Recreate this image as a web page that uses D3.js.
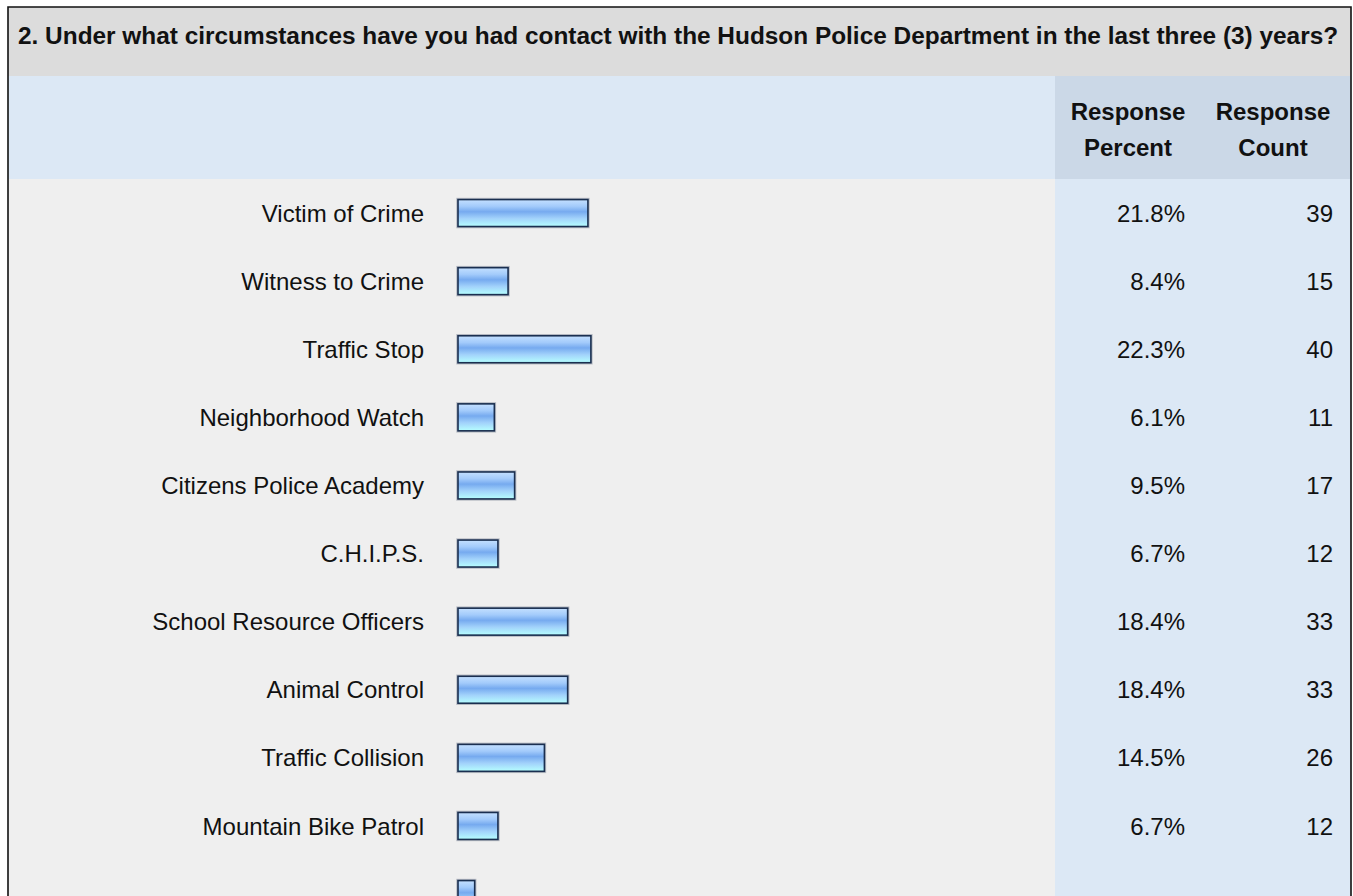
<!DOCTYPE html>
<html>
<head>
<meta charset="utf-8">
<script src="https://cdn.jsdelivr.net/npm/d3@7"></script>
<style>
  body { margin: 0; background: #ffffff; }
  svg { display: block; font-family: "Liberation Sans", Arial, sans-serif; }
</style>
</head>
<body>
<div id="chart"></div>
<script>
// survey question 2 data
const questionTitle = "2. Under what circumstances have you had contact with the Hudson Police Department in the last three (3) years?";
const categories = ["Victim of Crime", "Witness to Crime", "Traffic Stop", "Neighborhood Watch", "Citizens Police Academy",
    "C.H.I.P.S.", "School Resource Officers", "Animal Control", "Traffic Collision", "Mountain Bike Patrol", "Other"];
const percents = [21.8, 8.4, 22.3, 6.1, 9.5, 6.7, 18.4, 18.4, 14.5, 6.7, 2.8];
const counts = [39, 15, 40, 11, 17, 12, 33, 33, 26, 12, 5];
const headerPercent = ["Response", "Percent"];
const headerCount = ["Response", "Count"];

const W = 1353, H = 896;
const frameLeft = 8, frameRight = 1351, frameTop = 7;
const titleBottom = 76, headerBottom = 179;
const colStart = 1055;
const rowStep = 68.1;

const svg = d3.select("#chart").append("svg")
    .attr("width", W)
    .attr("height", H);

// gradient for the glossy bars
const defs = svg.append("defs");
const grad = defs.append("linearGradient")
    .attr("id", "barGrad")
    .attr("x1", 0).attr("y1", 0).attr("x2", 0).attr("y2", 1);
grad.append("stop").attr("offset", "0%").attr("stop-color", "#c4e0ff");
grad.append("stop").attr("offset", "25%").attr("stop-color", "#a3cbfb");
grad.append("stop").attr("offset", "45%").attr("stop-color", "#76aaef");
grad.append("stop").attr("offset", "70%").attr("stop-color", "#a2d2fb");
grad.append("stop").attr("offset", "100%").attr("stop-color", "#b6ffff");

// backgrounds
svg.append("rect").attr("x", frameLeft).attr("y", frameTop).attr("width", frameRight - frameLeft).attr("height", titleBottom - frameTop).attr("fill", "#dcdcdc");
svg.append("rect").attr("x", frameLeft).attr("y", titleBottom).attr("width", colStart - frameLeft).attr("height", headerBottom - titleBottom).attr("fill", "#dce8f5");
svg.append("rect").attr("x", colStart).attr("y", titleBottom).attr("width", frameRight - colStart).attr("height", headerBottom - titleBottom).attr("fill", "#cbd8e7");
svg.append("rect").attr("x", frameLeft).attr("y", headerBottom).attr("width", colStart - frameLeft).attr("height", H - headerBottom).attr("fill", "#efefef");
svg.append("rect").attr("x", colStart).attr("y", headerBottom).attr("width", frameRight - colStart).attr("height", H - headerBottom).attr("fill", "#dce8f5");

// outer frame
svg.append("path")
    .attr("d", `M${frameLeft},${H} V${frameTop} H${frameRight} V${H}`)
    .attr("fill", "none")
    .attr("stroke", "#111")
    .attr("stroke-width", 1.6);

// title
svg.append("text")
    .attr("x", 18)
    .attr("y", 44)
    .style("font-size", "24.4px")
    .style("font-weight", "bold")
    .style("fill", "#111")
    .text(questionTitle);

// column headers
function header(lines, cx) {
    const t = svg.append("text")
        .attr("text-anchor", "middle")
        .style("font-size", "24px")
        .style("font-weight", "bold")
        .style("fill", "#111");
    lines.forEach((l, i) => {
        t.append("tspan").attr("x", cx).attr("y", 120 + i * 36).text(l);
    });
}
header(headerPercent, 1128);
header(headerCount, 1273);

// scales
const x = d3.scaleLinear()
    .domain([0, 100])
    .range([458, 458 + 596]);

const y = d3.scaleBand()
    .domain(categories)
    .range([headerBottom, headerBottom + rowStep * categories.length])
    .paddingInner(0.604)
    .paddingOuter(0.302);

// bars
const bars = svg.append("g");
bars.selectAll(".shadow")
    .data(percents)
    .enter().append("rect")
    .attr("x", x(0) - 0.5)
    .attr("y", (d, i) => y(categories[i]) - 0.5)
    .attr("width", d => x(d) - x(0) + 1)
    .attr("height", y.bandwidth() + 1)
    .attr("fill", "none")
    .attr("stroke", "#b8bcc4")
    .attr("stroke-width", 2.5);

bars.selectAll(".bar")
    .data(percents)
    .enter().append("rect")
    .attr("x", x(0))
    .attr("y", (d, i) => y(categories[i]))
    .attr("width", d => x(d) - x(0))
    .attr("height", y.bandwidth())
    .attr("fill", "url(#barGrad)")
    .attr("stroke", "#1a2f50")
    .attr("stroke-width", 1.6);

// labels and numbers (the last row is only partly in the window, its texts fall below it)
const rowY = i => y(categories[i]) + y.bandwidth() / 2 + 8.6;
const shown = d3.range(categories.length).filter(i => rowY(i) < H);

const texts = svg.append("g")
    .style("font-size", "24px")
    .style("fill", "#111");

texts.selectAll(".label")
    .data(shown)
    .enter().append("text")
    .attr("x", 424)
    .attr("y", i => rowY(i))
    .attr("text-anchor", "end")
    .text(i => categories[i]);

texts.selectAll(".pct")
    .data(shown)
    .enter().append("text")
    .attr("x", 1185)
    .attr("y", i => rowY(i))
    .attr("text-anchor", "end")
    .text(i => percents[i].toFixed(1) + "%");

texts.selectAll(".cnt")
    .data(shown)
    .enter().append("text")
    .attr("x", 1333)
    .attr("y", i => rowY(i))
    .attr("text-anchor", "end")
    .text(i => counts[i]);
</script>
</body>
</html>
